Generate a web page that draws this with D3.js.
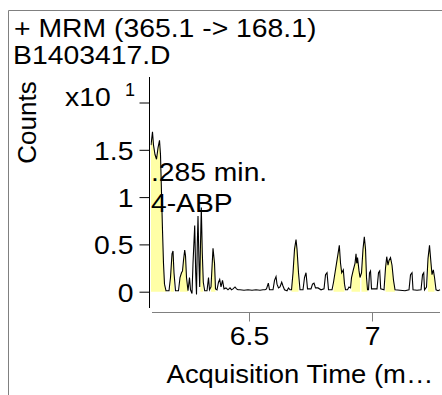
<!DOCTYPE html>
<html>
<head>
<meta charset="utf-8">
<script src="https://cdn.jsdelivr.net/npm/d3@7"></script>
<style>
  html, body { margin: 0; padding: 0; background: #fff; }
  svg { display: block; }
  text { font-family: "Liberation Sans", Arial, sans-serif; fill: #000; }
</style>
</head>
<body>
<svg id="chart" width="442" height="395"></svg>
<script>
// ---------------- data ----------------
const titleLines = ["+ MRM (365.1 -> 168.1)", "B1403417.D"];
const yAxisTitle = "Counts";
const yScaleFactor = "x10";
const yScaleExp = "1";
const xAxisTitle = "Acquisition Time (m\u2026";
const peakLabel = [".285 min.", "4-ABP"];

const yTickValues = [0, 0.5, 1, 1.5, 2];
const yTickLabels = ["0", "0.5", "1", "1.5", ""];
const xTickValues = [6.5, 7];
const xTickLabels = ["6.5", "7"];

// acquisition time (min)
const times = [
  6.1016, 6.1077, 6.1118, 6.1179, 6.1240, 6.1301, 6.1362, 6.1402, 6.1443, 6.1484,
  6.1524, 6.1565, 6.1626, 6.1748, 6.1809, 6.1870, 6.1911, 6.1951, 6.2012, 6.2134,
  6.2195, 6.2256, 6.2297, 6.2337, 6.2386, 6.2419, 6.2459, 6.2520, 6.2581, 6.2622,
  6.2683, 6.2724, 6.2793, 6.2833, 6.2866, 6.2898, 6.2927, 6.2967, 6.2996, 6.3028,
  6.3061, 6.3102, 6.3142, 6.3199, 6.3293, 6.3354, 6.3394, 6.3455, 6.3537, 6.3598,
  6.3638, 6.3699, 6.3760, 6.3809, 6.3862, 6.3923, 6.3984, 6.4065, 6.4146, 6.4228,
  6.4289, 6.4350, 6.4431, 6.4492, 6.4553, 6.4634, 6.4797, 6.4959, 6.5122, 6.5285,
  6.5447, 6.5569, 6.5650, 6.5711, 6.5785, 6.5833, 6.5976, 6.6037, 6.6098, 6.6138,
  6.6199, 6.6260, 6.6329, 6.6382, 6.6443, 6.6545, 6.6606, 6.6667, 6.6728, 6.6789,
  6.6850, 6.6911, 6.6951, 6.7012, 6.7073, 6.7195, 6.7256, 6.7317, 6.7378, 6.7520,
  6.7581, 6.7642, 6.7703, 6.7805, 6.7927, 6.8049, 6.8110, 6.8171, 6.8232, 6.8374,
  6.8435, 6.8496, 6.8557, 6.8618, 6.8671, 6.8720, 6.8768, 6.8833, 6.8882, 6.8923,
  6.9004, 6.9065, 6.9126, 6.9167, 6.9240, 6.9309, 6.9350, 6.9378, 6.9411, 6.9472,
  6.9512, 6.9573, 6.9634, 6.9687, 6.9736, 6.9776, 6.9817, 6.9858, 6.9898, 6.9939,
  6.9980, 7.0203, 7.0264, 7.0313, 7.0354, 7.0488, 7.0549, 7.0598, 7.0650, 7.0691,
  7.0752, 7.0813, 7.0874, 7.0935, 7.1138, 7.1341, 7.1504, 7.1565, 7.1626, 7.1667,
  7.1829, 7.1992, 7.2053, 7.2102, 7.2134, 7.2215, 7.2276, 7.2337, 7.2398, 7.2439,
  7.2492, 7.2541, 7.2602, 7.2683, 7.2764
];
// counts (x10^1)
const counts = [
  1.55, 1.69, 1.55, 1.45, 1.40, 1.52, 1.60, 1.45, 1.05, 0.65,
  0.30, 0.08, 0.01, 0.01, 0.15, 0.40, 0.43, 0.20, 0.01, 0.01,
  0.15, 0.20, 0.22, 0.33, 0.44, 0.38, 0.15, 0.01, 0.15, 0.02,
  -0.02, 0.30, 0.70, 0.20, -0.03, 0.50, 0.80, 0.30, 0.05, 0.50,
  0.89, 0.40, 0.10, 0.01, 0.01, 0.15, 0.02, 0.05, 0.46, 0.30,
  0.03, 0.02, 0.10, 0.13, 0.05, 0.12, 0.03, 0.04, 0.02, 0.04,
  0.02, 0.03, 0.05, 0.03, 0.02, 0.02, 0.015, 0.02, 0.015, 0.02,
  0.015, 0.02, 0.02, 0.03, 0.09, 0.02, 0.02, 0.12, 0.16, 0.08,
  0.04, 0.05, 0.10, 0.06, 0.02, 0.01, 0.04, 0.02, 0.02, 0.20,
  0.45, 0.55, 0.45, 0.20, 0.02, 0.02, 0.15, 0.20, 0.03, 0.03,
  0.08, 0.09, 0.04, 0.04, 0.02, 0.03, 0.18, 0.20, 0.02, 0.02,
  0.10, 0.20, 0.30, 0.40, 0.49, 0.30, 0.20, 0.23, 0.08, 0.02,
  0.02, 0.05, 0.04, 0.15, 0.23, 0.30, 0.40, 0.30, 0.36, 0.22,
  0.15, 0.20, 0.45, 0.58, 0.45, 0.15, 0.02, 0.02, 0.20, 0.22,
  0.03, 0.03, 0.20, 0.22, 0.03, 0.02, 0.25, 0.37, 0.28, 0.33,
  0.36, 0.28, 0.12, 0.02, 0.015, 0.01, 0.02, 0.18, 0.20, 0.02,
  0.015, 0.02, 0.18, 0.20, 0.02, 0.05, 0.35, 0.49, 0.30, 0.18,
  0.23, 0.15, 0.02, 0.01, 0.02
];
// integrated (shaded) peak windows, start / end times (min)
const peakStarts = [6.100, 6.178, 6.217, 6.300, 6.345, 6.672, 6.843, 6.915, 6.957, 7.053, 7.222];
const peakEnds   = [6.163, 6.201, 6.252, 6.316, 6.364, 6.706, 6.891, 6.952, 6.982, 7.094, 7.259];

// ---------------- drawing ----------------
const svg = d3.select("#chart");
const FONT = 26;
const STRETCH = 1.09;

function stretch(sel, k) {
  sel.each(function () {
    const w = this.getComputedTextLength();
    if (w > 0) d3.select(this).attr("textLength", w * k).attr("lengthAdjust", "spacingAndGlyphs");
  });
}

// frame
svg.append("path")
  .attr("d", "M8.5,395 V10.5 H442")
  .attr("fill", "none").attr("stroke", "#808080").attr("stroke-width", 1);

// titles
const tt = svg.selectAll("text.title").data(titleLines).join("text")
  .attr("class", "title")
  .attr("x", (d, i) => i === 0 ? 14 : 13).attr("y", (d, i) => 37 + i * 27)
  .attr("font-size", FONT).text(d => d);
stretch(tt, STRETCH);

const x = d3.scaleLinear().domain([6.1, 7.28]).range([150.6, 440.9]);
const y = d3.scaleLinear().domain([0, 2]).range([291.7, 102.5]);

const data = times.map((t, i) => ({ t, v: counts[i] }));

svg.append("defs").append("clipPath").attr("id", "plotclip")
  .append("rect").attr("x", 150.5).attr("y", 78).attr("width", 291.5).attr("height", 228);

const plot = svg.append("g").attr("clip-path", "url(#plotclip)");

// shaded peaks
const area = d3.area().x(d => x(d.t)).y0(y(0)).y1(d => y(Math.max(0, d.v)));
peakStarts.forEach((s, k) => {
  const e = peakEnds[k];
  const seg = data.filter(d => d.t >= s && d.t <= e);
  plot.append("path").datum(seg)
    .attr("d", area)
    .attr("fill", "#ffffa6").attr("stroke", "none");
});

// trace
const line = d3.line().x(d => x(d.t)).y(d => y(d.v));
plot.append("path").datum(data)
  .attr("d", line)
  .attr("fill", "none").attr("stroke", "#000").attr("stroke-width", 1.1)
  .attr("stroke-linejoin", "miter");

// y axis
const yAxis = d3.axisLeft(y).tickValues(yTickValues)
  .tickFormat((d, i) => yTickLabels[i]).tickSize(10).tickPadding(6);
const gy = svg.append("g").attr("transform", "translate(149.5,0)").call(yAxis);
gy.select(".domain").attr("d", "M0,77V308");
gy.selectAll("text").attr("font-size", FONT).attr("font-family", "Liberation Sans, Arial, sans-serif")
  .attr("dy", "0.36em");
gy.selectAll("line").attr("stroke", "#000");
stretch(gy.selectAll("text"), STRETCH);

// x axis
const xAxis = d3.axisBottom(x).tickValues(xTickValues)
  .tickFormat((d, i) => xTickLabels[i]).tickSize(9).tickPadding(5);
const gx = svg.append("g").attr("transform", "translate(0,312.5)").call(xAxis);
gx.select(".domain").attr("d", "M152,0H440").attr("stroke", "#808080");
gx.selectAll("line").attr("stroke", "#808080");
gx.selectAll("text").attr("font-size", FONT).attr("font-family", "Liberation Sans, Arial, sans-serif")
  .attr("dy", "0.71em");
stretch(gx.selectAll("text"), STRETCH);

// axis titles
svg.append("text")
  .attr("transform", "translate(36,122.5) rotate(-90)")
  .attr("text-anchor", "middle").attr("font-size", FONT).text(yAxisTitle);

const sc = svg.append("text").attr("x", 65).attr("y", 106).attr("font-size", FONT).text(yScaleFactor);
stretch(sc, STRETCH);
svg.append("text").attr("x", 125).attr("y", 96).attr("font-size", 18).text(yScaleExp);

const xt = svg.append("text")
  .attr("x", 300).attr("y", 383).attr("text-anchor", "middle")
  .attr("font-size", FONT).text(xAxisTitle);
stretch(xt, 1.055);

// peak annotation
const pl = svg.selectAll("text.peak").data(peakLabel).join("text")
  .attr("class", "peak")
  .attr("x", 151).attr("y", (d, i) => 181 + i * 31)
  .attr("font-size", 25).text(d => d);
stretch(pl, 1.13);
</script>
</body>
</html>
